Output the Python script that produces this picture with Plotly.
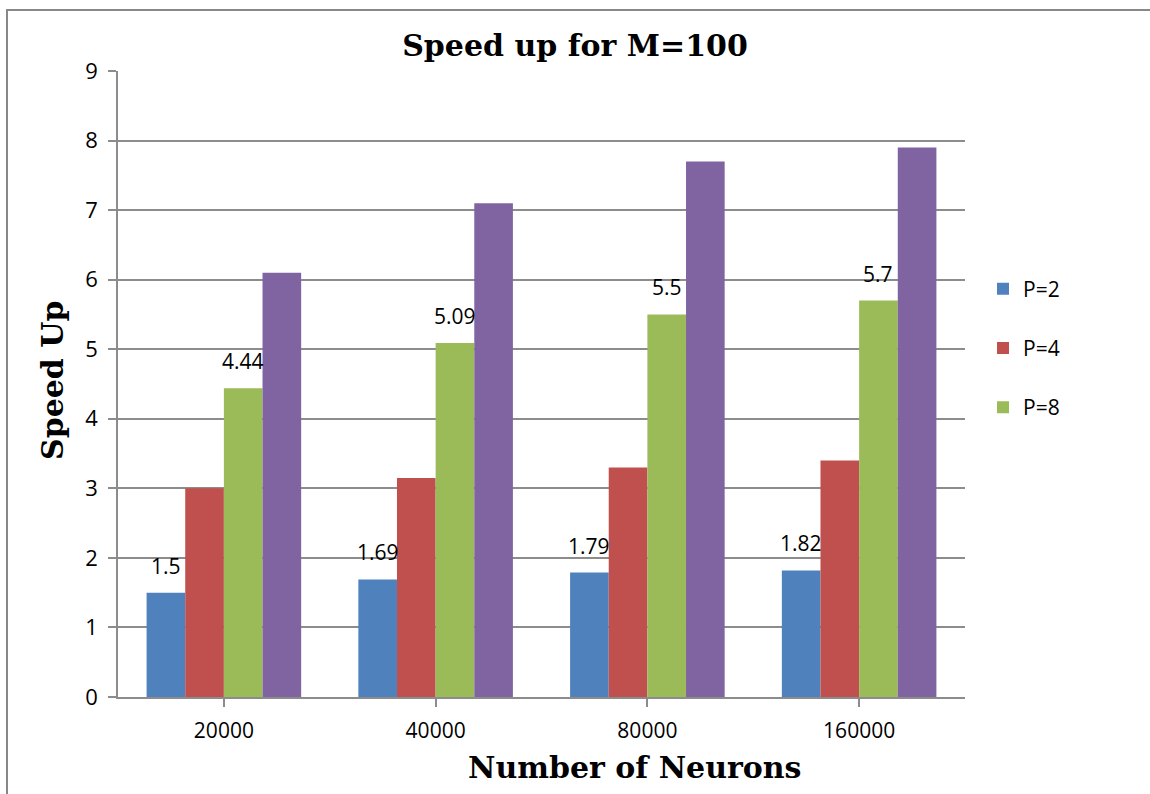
import plotly.graph_objects as go

# Speed-up measurements for M=100
neurons = ["20000", "40000", "80000", "160000"]
p2 = [1.5, 1.69, 1.79, 1.82]
p4 = [3.0, 3.15, 3.3, 3.4]
p8 = [4.44, 5.09, 5.5, 5.7]
p16 = [6.1, 7.1, 7.7, 7.9]

series = [
    ("P=2", p2, "#4F81BD", True, True),
    ("P=4", p4, "#C0504D", True, False),
    ("P=8", p8, "#9BBB59", True, True),
    ("P=16", p16, "#8064A2", False, False),
]

BARGAP = 0.27
n_series = len(series)
bar_w = (1 - BARGAP) / n_series

SERIF = "DejaVu Serif"
SANS = "Open Sans"
GRID = "#8C8C8C"

# plot area in pixels (left, right, top, bottom)
L, R, T, B = 118, 965, 71, 697
W_FIG, H_FIG = 1150, 794


def px_x(px):
    return (px - L) / (R - L)


def px_y(py):
    return (B - py) / (B - T)


xs = list(range(len(neurons)))

fig = go.Figure()
annotations = []
for k, (name, vals, color, in_legend, labelled) in enumerate(series):
    fig.add_trace(go.Bar(
        x=xs, y=vals, name=name, marker=dict(color=color, line=dict(width=0)),
        showlegend=in_legend, legendgroup=name,
    ))
    if labelled:
        offset = (k - (n_series - 1) / 2) * bar_w
        for i, v in enumerate(vals):
            annotations.append(dict(
                x=i + offset, y=v, xref="x", yref="y", text=f"{v:g}",
                showarrow=False, yanchor="bottom", xanchor="center", yshift=11,
                font=dict(family=SANS, size=21, color="#000"),
            ))

# axis titles
annotations.append(dict(
    x=px_x(635), y=px_y(767), xref="paper", yref="paper",
    xanchor="center", yanchor="middle", text="<b>Number of Neurons</b>",
    showarrow=False, font=dict(family=SERIF, size=30, color="#000"),
))
annotations.append(dict(
    x=px_x(52), y=px_y(381), xref="paper", yref="paper",
    xanchor="center", yanchor="middle", text="<b>Speed Up</b>", textangle=-90,
    showarrow=False, font=dict(family=SERIF, size=30, color="#000"),
))

fig.update_layout(
    width=W_FIG, height=H_FIG,
    margin=dict(l=L, r=W_FIG - R, t=T, b=H_FIG - B),
    paper_bgcolor="white", plot_bgcolor="white",
    barmode="group", bargap=BARGAP, bargroupgap=0,
    title=dict(text="<b>Speed up for M=100</b>", x=0.5, xref="container",
               y=1 - 45 / H_FIG, yref="container", yanchor="middle", xanchor="center",
               font=dict(family=SERIF, size=30, color="#000")),
    legend=dict(x=px_x(983), xanchor="left", y=0.5575, yanchor="middle",
                font=dict(family=SANS, size=21, color="#000"),
                tracegroupgap=29, bgcolor="rgba(0,0,0,0)"),
    xaxis=dict(
        tickmode="array", tickvals=xs, ticktext=neurons,
        range=[-0.5, len(neurons) - 0.5], tickson="boundaries",
        showgrid=False, showline=True, linecolor=GRID, linewidth=1.5,
        ticks="outside", ticklen=8, tickcolor=GRID, tickwidth=1.5,
        tickfont=dict(family=SANS, size=21, color="#000"),
        ticklabelstandoff=6, zeroline=False,
    ),
    yaxis=dict(
        range=[0, 9], dtick=1, showgrid=True, gridcolor=GRID, gridwidth=1.6,
        showline=True, linecolor=GRID, linewidth=1.6,
        ticks="outside", ticklen=8, tickcolor=GRID, tickwidth=1.6,
        tickfont=dict(family=SANS, size=22, color="#000"),
        ticklabelstandoff=6, zeroline=False,
    ),
    annotations=annotations,
)

# outer chart frame
fig.add_shape(type="rect", xref="paper", yref="paper",
              x0=px_x(7), x1=1.4, y0=-0.3, y1=px_y(10),
              line=dict(color="#888888", width=2), layer="below")

fig.write_html("out.html")
